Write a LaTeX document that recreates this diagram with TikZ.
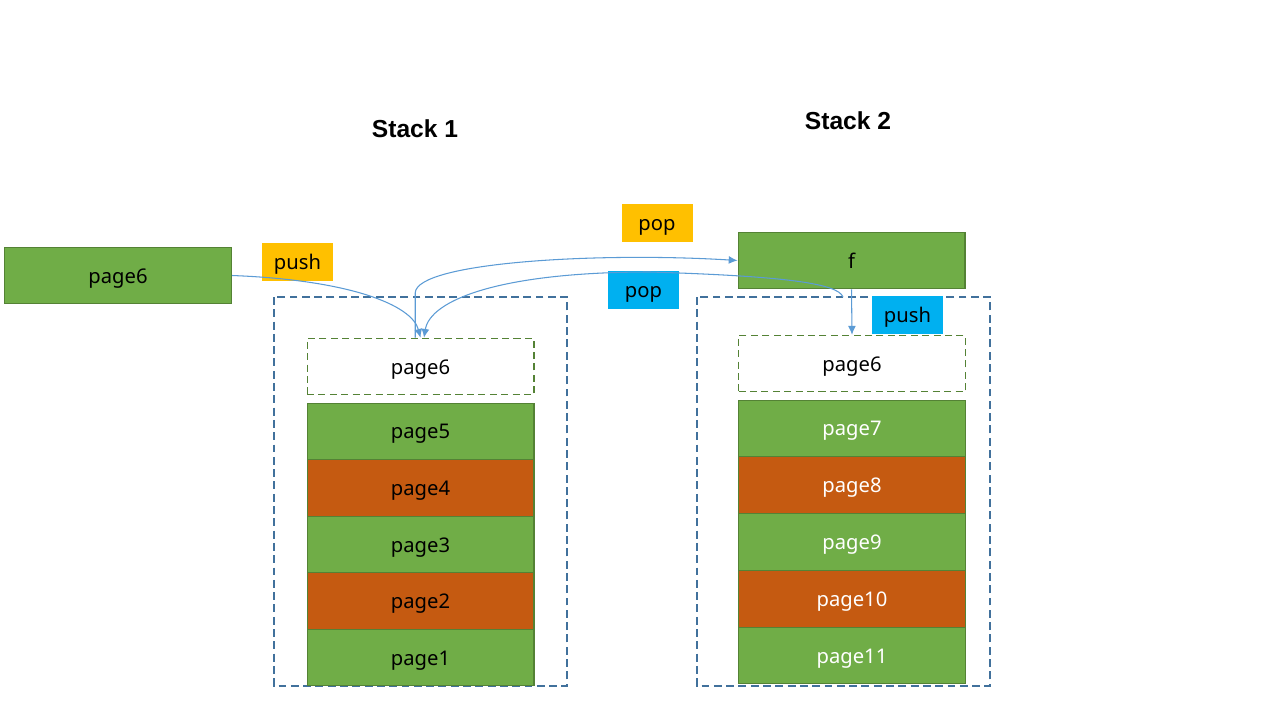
\documentclass[tikz,border=0pt]{standalone}
\usepackage{fontspec}
\setmainfont{Noto Sans}
\newfontfamily\titlefont{Liberation Sans}
\usetikzlibrary{arrows.meta}

\definecolor{pagegreen}{HTML}{70AD47}
\definecolor{pageorange}{HTML}{C55A11}
\definecolor{greenedge}{HTML}{548235}
\definecolor{frameblue}{HTML}{41719C}
\definecolor{flowblue}{HTML}{5B9BD5}
\definecolor{tagyellow}{HTML}{FFC000}
\definecolor{tagblue}{HTML}{00B0F0}

\begin{document}
\begin{tikzpicture}[x=0.02cm,y=-0.02cm,
    page/.style={draw=greenedge, fill=pagegreen, line width=0.6pt, inner sep=0pt,
      minimum width=4.54cm, minimum height=1.13cm, text height=1.9ex, text depth=0.3ex,
      font=\fontsize{11.5}{13}\selectfont},
    slot/.style={page, fill=white, dash pattern=on 4pt off 2.5pt},
    tag/.style={inner sep=0pt, minimum width=1.42cm, minimum height=0.76cm,
      text height=1.9ex, text depth=0.3ex, font=\fontsize{11.5}{13}\selectfont},
    stackframe/.style={draw=frameblue, dash pattern=on 4.5pt off 2.5pt, line width=0.6pt},
    flow/.style={draw=flowblue, line width=0.6pt, -{Latex[length=5pt,width=4.5pt]}},
    title/.style={font=\titlefont\fontsize{14}{16}\selectfont\bfseries}]

    % canvas
    \fill[white] (0,0) rectangle (1280,720);

    % titles
    \node[title] (t1) at (415,129) {Stack 1};
    \node[title] (t2) at (848,121) {Stack 2};

    % Stack 1
    \draw[stackframe] (274,297) rectangle (567,686);
    \node[page] (in) at (118,275.5) {page6};
    \node[slot] (top1) at (420.5,366.5) {page6};
    \foreach \n/\c [count=\i] in {5/pagegreen,4/pageorange,3/pagegreen,2/pageorange,1/pagegreen}
      \node[page, fill=\c] (s1p\n) at ({420.5},{431.3+56.6*(\i-1)}) {page\n};

    % Stack 2
    \draw[stackframe] (697,297) rectangle (990,686);
    \node[page] (f) at (851.5,260.5) {f};
    \node[slot] (top2) at (852,363.5) {page6};
    \foreach \n/\c [count=\i] in {7/pagegreen,8/pageorange,9/pagegreen,10/pageorange,11/pagegreen}
      \node[page, fill=\c, text=white] (s2p\n) at ({852},{428.4+56.8*(\i-1)}) {page\n};

    % tags
    \node[tag, fill=tagyellow] (push1) at (297.5,262) {push};
    \node[tag, fill=tagyellow] (pop1) at (657,223) {pop};
    \node[tag, fill=tagblue] (pop2) at (643.5,290) {pop};
    \node[tag, fill=tagblue] (push2) at (907.5,315) {push};

    % connectors
    \coordinate (back) at (843,297);
    \draw[flow] (in.east) .. controls (350,280) and (412,305) .. (top1.north);
    \draw[flow] ([xshift=-3pt]top1.north) -- ++(0,-45)
      .. controls (417,262) and (600,252) .. (f.west);
    \draw[flow] (back) .. controls (838,283) and (780,276) .. (650,272)
      .. controls (500,272) and (430,300) .. ([xshift=2pt]top1.north);
    \draw[flow] (f.south) -- (top2.north);
\end{tikzpicture}
\end{document}
